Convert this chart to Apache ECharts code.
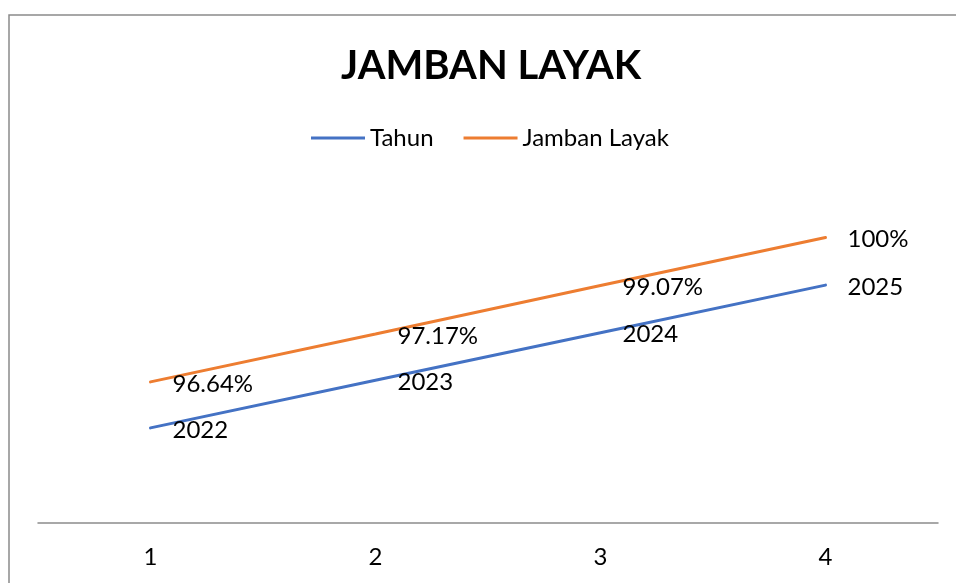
<!DOCTYPE html>
<html>
<head>
<meta charset="utf-8">
<title>Jamban Layak</title>
<script src="https://cdn.jsdelivr.net/npm/echarts@6/dist/echarts.min.js"></script>
<style>
  html, body { margin: 0; padding: 0; background: #ffffff; }
  #chart { width: 956px; height: 583px; }
</style>
</head>
<body>
<div id="chart"></div>
<script>
// Category positions along the bottom axis
const categories = ['1', '2', '3', '4'];
// Year series
const tahun = [2022, 2023, 2024, 2025];
// Share of households with proper latrines (fraction), stacked on the year series
const jambanLayak = [0.9664, 0.9717, 0.9907, 1.0];
const jambanLayakLabels = ['96.64%', '97.17%', '99.07%', '100%'];

const FONT = 'Lato, "Open Sans", sans-serif';
const chart = echarts.init(document.getElementById('chart'), null, { renderer: 'canvas' });

chart.setOption({
  animation: false,
  backgroundColor: '#ffffff',
  title: {
    text: 'JAMBAN LAYAK',
    left: 486,
    textAlign: 'center',
    top: 35,
    textStyle: { fontFamily: FONT, fontWeight: 'bold', fontSize: 40, color: '#000000', lineHeight: 52 }
  },
  legend: {
    left: 311,
    top: 124,
    padding: 0,
    icon: 'rect',
    itemWidth: 54,
    itemHeight: 3,
    itemGap: 30,
    textStyle: { fontFamily: FONT, fontSize: 24, color: '#000000', lineHeight: 28 },
    data: ['Tahun', 'Jamban Layak']
  },
  grid: { left: 38, right: 18, top: 190, bottom: 60, containLabel: false },
  xAxis: {
    type: 'category',
    data: categories,
    boundaryGap: true,
    axisLine: { show: true, lineStyle: { color: '#8c8c8c', width: 1.5 } },
    axisTick: { show: false },
    axisLabel: { fontFamily: FONT, fontSize: 24, color: '#000000', margin: 21, lineHeight: 26 }
  },
  yAxis: {
    type: 'value',
    min: 2020,
    max: 2027,
    show: false,
    splitLine: { show: false }
  },
  graphic: [{
    type: 'rect',
    silent: true,
    shape: { x: 9, y: 15, width: 960, height: 600 },
    style: { fill: 'none', stroke: '#8a8a8a', lineWidth: 1.5 }
  }],
  series: [
    {
      name: 'Tahun',
      type: 'line',
      stack: 'total',
      data: tahun,
      color: '#4472C4',
      symbol: 'circle',
      symbolSize: 0,
      lineStyle: { width: 3, color: '#4472C4', cap: 'round' },
      label: {
        show: true,
        position: 'right',
        distance: 22,
        offset: [0, 2],
        fontFamily: FONT,
        fontSize: 24,
        color: '#000000'
      }
    },
    {
      name: 'Jamban Layak',
      type: 'line',
      stack: 'total',
      data: jambanLayak,
      color: '#ED7D31',
      symbol: 'circle',
      symbolSize: 0,
      lineStyle: { width: 3, color: '#ED7D31', cap: 'round' },
      label: {
        show: true,
        position: 'right',
        distance: 22,
        offset: [0, 2],
        fontFamily: FONT,
        fontSize: 24,
        color: '#000000',
        formatter: p => jambanLayakLabels[p.dataIndex]
      }
    }
  ]
});
</script>
</body>
</html>
